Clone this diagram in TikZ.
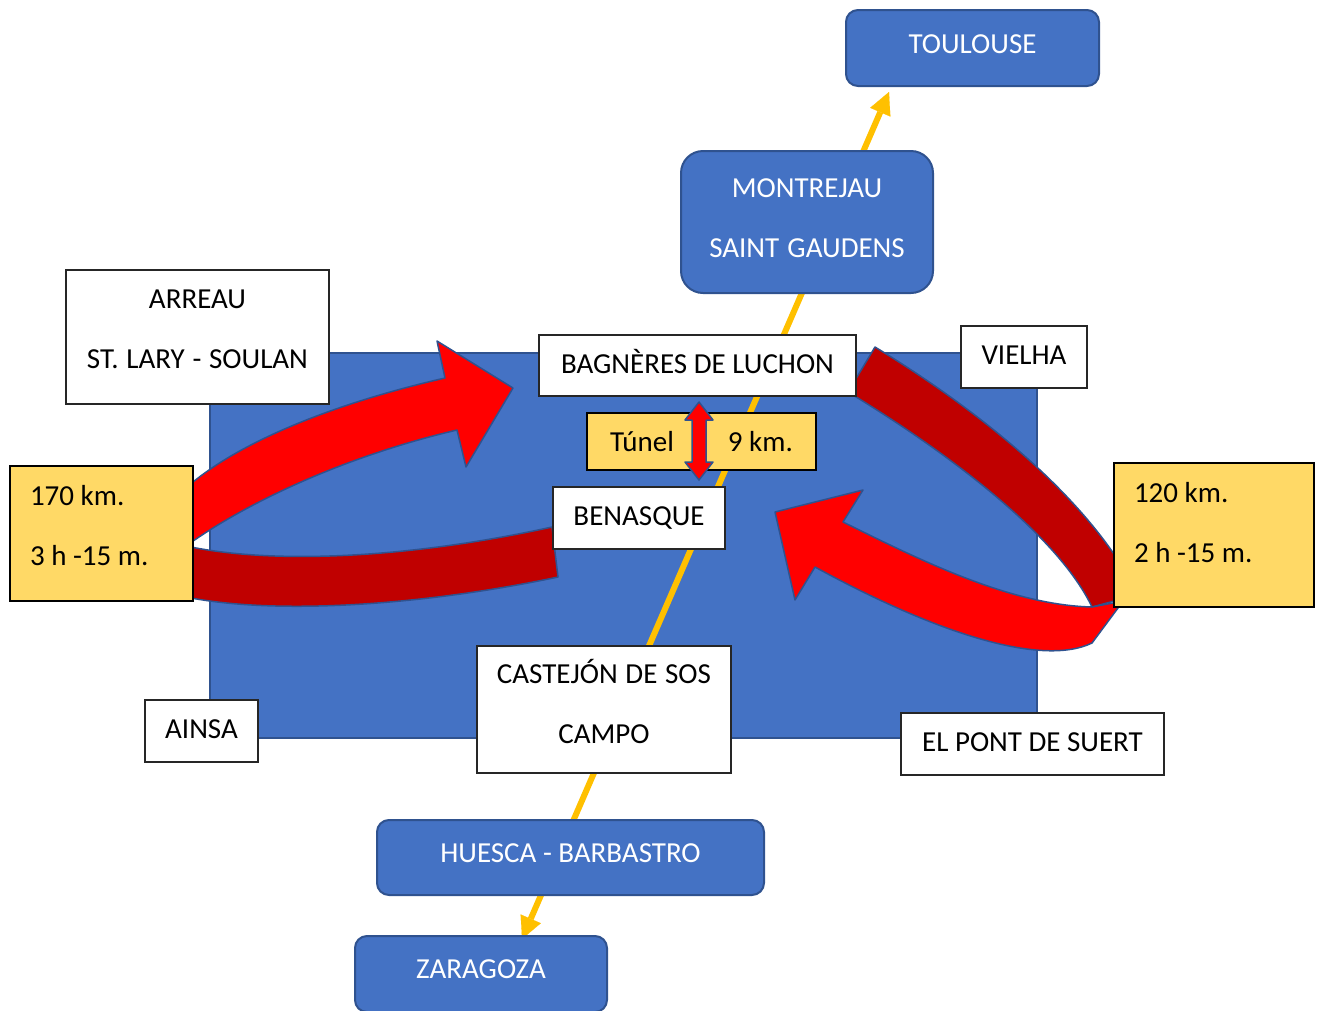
\documentclass[tikz,border=0pt]{standalone}
\usepackage{fontspec}
\setmainfont{Carlito}
\usetikzlibrary{arrows.meta}
\frenchspacing
\definecolor{cblue}{HTML}{4472C4}
\definecolor{bdr}{HTML}{2F528F}
\definecolor{cyellow}{HTML}{FFD966}
\definecolor{yline}{HTML}{FFC000}
\definecolor{darkred}{HTML}{C00000}
\definecolor{brightred}{HTML}{FF0000}
\newcommand\fsz{\fontsize{29}{60}\selectfont}
\newcommand\nsp{\spaceskip=0pt\relax\xspaceskip=0pt\relax}
\tikzset{
  bluebox/.style={draw=bdr, line width=2pt, fill=cblue, rounded corners=12pt, text=white, inner sep=0pt, font=\fsz, text height=19pt},
  whitebox/.style={draw=black!85, line width=1.2pt, fill=white, inner sep=0pt, text=black, font=\fsz, text height=19pt},
  yellowbox/.style={draw=black, line width=2pt, fill=cyellow, inner sep=0pt, text=black, font=\fsz, text height=19pt},
  roadline/.style={draw=yline, line width=6pt, {Triangle[length=22pt,width=22pt,line width=0.1pt]}-{Triangle[length=22pt,width=22pt,line width=0.1pt]}},
  ribbon/.style={draw=bdr, line width=1.5pt, line join=round},
}
\begin{document}
\begin{tikzpicture}[x=1pt,y=-1pt]
\useasboundingbox (0,0) rectangle (1323,1010);
% background rectangle
\filldraw[fill=cblue, draw=bdr, line width=1.2pt] (210,353) rectangle (1037,738);
% road line
\coordinate (ytop) at (889,92);
\coordinate (ybot) at (522,939);
\draw[roadline] (ybot) -- (ytop);
% left curved arrow
\fill[ribbon, fill=darkred] (552,527) .. controls (420,556) and (280,566) .. (186,546) -- (186,597) .. controls (280,616) and (430,604) .. (558,577) -- cycle;
\fill[ribbon, fill=brightred] (186,546) .. controls (250,500) and (350,455) .. (457,430) -- (466,467) -- (513,388) -- (437,341) -- (445,378) .. controls (340,402) and (240,440) .. (186,488) -- cycle;
% right curved arrow
\fill[ribbon, fill=darkred] (875,347) .. controls (970,405) and (1065,480) .. (1118,560) -- (1118,600) -- (1092,607) .. controls (1060,540) and (960,460) .. (848,392) -- cycle;
\fill[ribbon, fill=brightred] (1092,607) -- (1118,602) -- (1118,608) -- (1092,643) .. controls (1040,668) and (930,630) .. (815,567) -- (795,600) -- (775,512) -- (863,490) -- (843,522) .. controls (920,560) and (1010,605) .. (1092,607) -- cycle;
% blue boxes
\node[bluebox, minimum width=253pt, minimum height=76pt, text depth=8pt] (toulouse) at (972.5,48) {TOULOUSE};
\node[bluebox, rounded corners=22pt, text width=252pt, minimum height=142pt, align=center, text depth=68pt] (montrejau) at (807,222) {\nsp MONTREJAU\\SAINT GAUDENS};
\node[bluebox, minimum width=387pt, minimum height=75pt, text depth=9pt] (huesca) at (570.5,857.5) {HUESCA - BARBASTRO};
\node[bluebox, minimum width=252pt, minimum height=76pt, text depth=10pt] (zaragoza) at (481,974) {ZARAGOZA};
% white boxes
\node[whitebox, text width=263pt, minimum height=134pt, align=center, text depth=77pt] (arreau) at (197.5,337) {\nsp ARREAU\\ST. LARY - SOULAN};
\node[whitebox, minimum width=317pt, minimum height=61pt, text depth=3pt] (luchon) at (697.5,365.5) {BAGNÈRES DE LUCHON};
\node[whitebox, minimum width=126pt, minimum height=62pt, text depth=4pt] (vielha) at (1024,357) {VIELHA};
\node[whitebox, minimum width=172pt, minimum height=62pt, text depth=4pt] (benasque) at (639,518) {BENASQUE};
\node[whitebox, text width=254pt, minimum height=127pt, align=center, text depth=71pt] (castejon) at (604,709.5) {\nsp CASTEJÓN DE SOS\\CAMPO};
\node[whitebox, minimum width=113pt, minimum height=62pt, text depth=4pt] (ainsa) at (201.5,731) {AINSA};
\node[whitebox, minimum width=263pt, minimum height=62pt, text depth=4pt] (pont) at (1032.5,744) {EL PONT DE SUERT};
% yellow boxes
\node[yellowbox, inner xsep=20pt, text width=143pt, minimum height=135pt, align=left, text depth=75pt] (km170) at (101.5,533.5) {\nsp 170 km.\\3 h -15 m.};
\node[yellowbox, inner xsep=20pt, text width=160pt, minimum height=144pt, align=left, text depth=84pt] (km120) at (1214,535) {\nsp 120 km.\\2 h -15 m.};
\node[yellowbox, minimum width=229pt, minimum height=57pt, text depth=0pt] (tunel) at (701.5,441.5) {Túnel\hspace{54pt}9 km.};
% tunnel double arrow
\filldraw[ribbon, fill=brightred] (699,402) -- (713,420) -- (706,420) -- (706,462) -- (713,462) -- (699,480) -- (685,462) -- (692,462) -- (692,420) -- (685,420) -- cycle;
\end{tikzpicture}
\end{document}
